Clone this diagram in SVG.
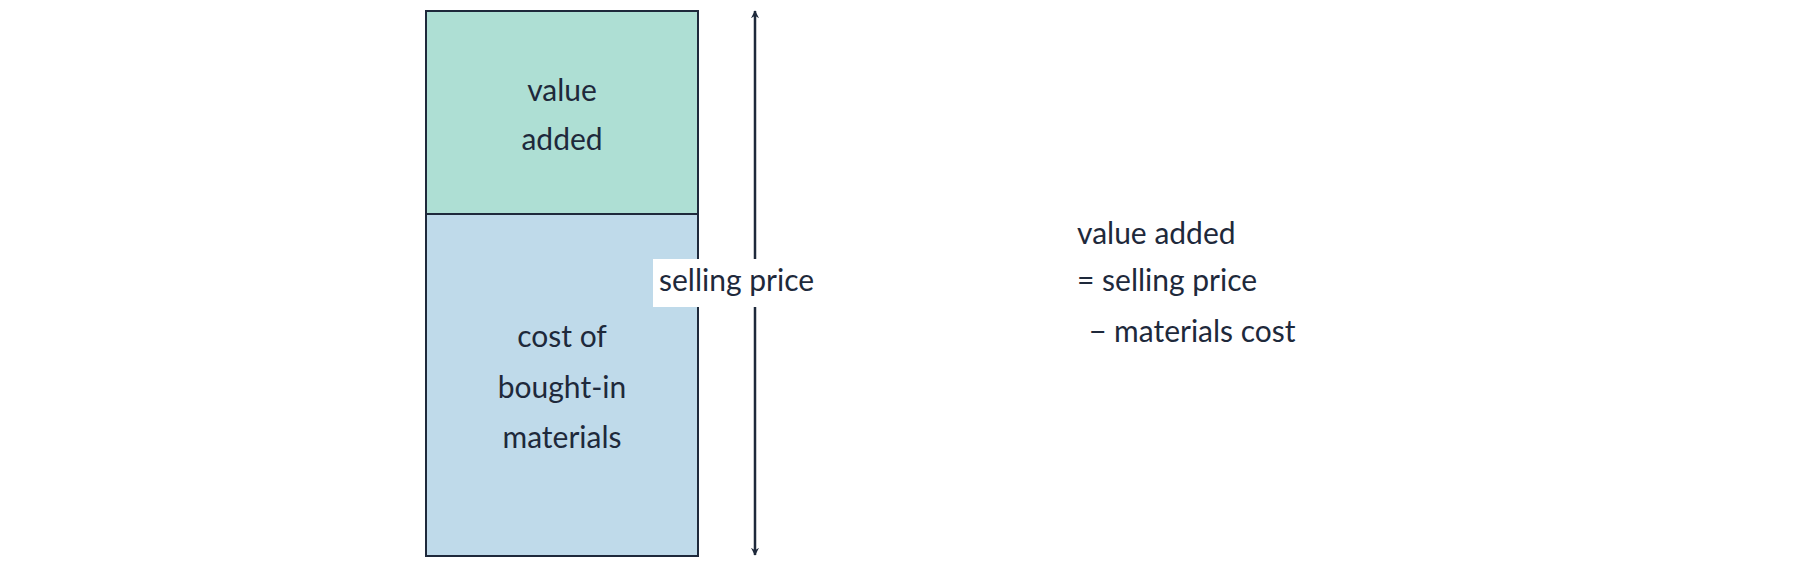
<svg xmlns="http://www.w3.org/2000/svg" width="1800" height="567" viewBox="0 0 1800 567">
<style>
text{font-family:Lato,"Open Sans",sans-serif;font-size:30px;fill:#1e293b}
.c{text-anchor:middle}
.box{stroke:#1e293b;stroke-width:2}
</style>
<defs><marker id="ah" viewBox="0 0 10 10" refX="9" refY="5" markerWidth="8" markerHeight="8" orient="auto-start-reverse" markerUnits="userSpaceOnUse"><path d="M0,0 L10,5 L0,10 L3,5 Z" fill="#1e293b"/></marker></defs>
<rect width="1800" height="567" fill="#fff"/>
<g id="value-added"><rect class="box" x="426" y="11" width="272" height="203" fill="#aedfd4"/>
<text class="c" x="562" y="101">value</text><text class="c" x="562" y="150">added</text></g>
<g id="materials"><rect class="box" x="426" y="214" width="272" height="342" fill="#bfdaea"/>
<text class="c" x="562" y="347">cost of</text><text class="c" x="562" y="398">bought-in</text><text class="c" x="562" y="448">materials</text></g>
<g id="connectors"><line x1="755" y1="11" x2="755" y2="555" stroke="#1e293b" stroke-width="2.5" marker-start="url(#ah)" marker-end="url(#ah)"/></g>
<g id="selling-price"><rect x="653" y="259" width="200" height="48" fill="#fff"/><text x="659" y="291">selling price</text></g>
<g id="formula"><text x="1077" y="244">value added</text><text x="1077" y="291">= selling price</text><text x="1089" y="342">− materials cost</text></g>
</svg>
